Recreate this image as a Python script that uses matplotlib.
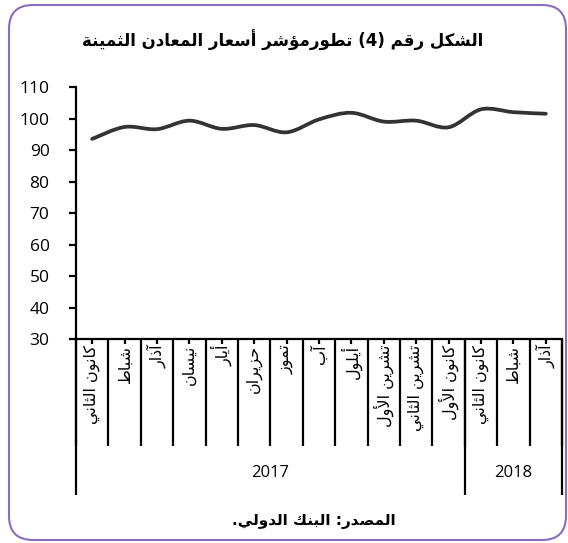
import re
from matplotlib import pyplot as plt
from matplotlib.path import Path
from matplotlib.patches import PathPatch, FancyBboxPatch
import numpy as np

# arabic letters -> isolated presentation form (4-form letters join both sides)
four = {'ئ': 0xFE89, 'ب': 0xFE8F, 'ت': 0xFE95, 'ث': 0xFE99, 'ج': 0xFE9D, 'ح': 0xFEA1,
        'خ': 0xFEA5, 'س': 0xFEB1, 'ش': 0xFEB5, 'ص': 0xFEB9, 'ض': 0xFEBD, 'ط': 0xFEC1,
        'ظ': 0xFEC5, 'ع': 0xFEC9, 'غ': 0xFECD, 'ف': 0xFED1, 'ق': 0xFED5, 'ك': 0xFED9,
        'ل': 0xFEDD, 'م': 0xFEE1, 'ن': 0xFEE5, 'ه': 0xFEE9, 'ي': 0xFEF1}
two = {'آ': 0xFE81, 'أ': 0xFE83, 'ؤ': 0xFE85, 'إ': 0xFE87, 'ا': 0xFE8D, 'ة': 0xFE93,
       'د': 0xFEA9, 'ذ': 0xFEAB, 'ر': 0xFEAD, 'ز': 0xFEAF, 'و': 0xFEED, 'ى': 0xFEEF}
lamalef = {'آ': 0xFEF5, 'أ': 0xFEF7, 'إ': 0xFEF9, 'ا': 0xFEFB}


def shape(s):
    # matplotlib does no arabic shaping, so pick the joined forms and reverse
    toks = []
    i = 0
    while i < len(s):
        if s[i] == 'ل' and i + 1 < len(s) and s[i + 1] in lamalef:
            toks.append(('LA', s[i + 1]))
            i += 2
        else:
            toks.append(s[i])
            i += 1
    out = []
    for k, t in enumerate(toks):
        prev = toks[k - 1] if k > 0 else None
        nxt = toks[k + 1] if k + 1 < len(toks) else None
        pj = prev is not None and prev in four
        if isinstance(t, tuple):
            out.append(chr(lamalef[t[1]] + pj))
        elif t in four:
            nj = nxt is not None and (nxt in four or nxt in two or isinstance(nxt, tuple))
            # 0 isolated, 1 final, 2 initial, 3 medial
            out.append(chr(four[t] + pj + 2 * nj))
        elif t in two:
            out.append(chr(two[t] + pj))
        else:
            out.append(t)
    vis = ''.join(out)[::-1]
    vis = re.sub(r'[0-9]+', lambda m: m.group(0)[::-1], vis)
    return vis.translate(str.maketrans('()', ')('))


title = 'الشكل رقم (4) تطورمؤشر أسعار المعادن الثمينة'
source = 'المصدر: البنك الدولي.'
months = ['كانون الثاني', 'شباط', 'آذار', 'نيسان', 'أيار', 'حزيران', 'تموز', 'آب',
          'أيلول', 'تشرين الأول', 'تشرين الثاني', 'كانون الأول',
          'كانون الثاني', 'شباط', 'آذار']
years = ['2017', '2018']
year_n = [12, 3]
values = [93.6, 97.4, 96.7, 99.4, 96.8, 98.0, 95.7, 99.8, 101.9, 99.1, 99.4, 97.3,
          103.0, 102.1, 101.6]
yticks = [30, 40, 50, 60, 70, 80, 90, 100, 110]

plt.rcParams['font.family'] = ['Open Sans', 'DejaVu Sans']

fig = plt.figure(figsize=(5.68, 5.43), dpi=100)
ax = fig.add_axes([0.1338, 0.3757, 0.9894 - 0.1338, 0.8392 - 0.3757])

# smoothed line (excel-style bezier through the points)
x = np.arange(len(values), dtype=float)
y = np.array(values)
pts = np.column_stack([x, y])
verts = [pts[0]]
codes = [Path.MOVETO]
n = len(pts)
for i in range(n - 1):
    p0 = pts[max(i - 1, 0)]
    p1 = pts[i]
    p2 = pts[i + 1]
    p3 = pts[min(i + 2, n - 1)]
    verts += [p1 + (p2 - p0) / 6, p2 - (p3 - p1) / 6, p2]
    codes += [Path.CURVE4] * 3
ax.add_patch(PathPatch(Path(verts, codes), fill=False, edgecolor='#333333',
                       lw=2.7, capstyle='round', joinstyle='round'))

ax.set_xlim(-0.5, len(values) - 0.5)
ax.set_ylim(30, 110)
ax.set_yticks(yticks)
ax.set_xticks(x)
ax.set_xticklabels([])
for s in ['top', 'right']:
    ax.spines[s].set_visible(False)
for s in ['left', 'bottom']:
    ax.spines[s].set_linewidth(1.6)
ax.tick_params(axis='y', direction='out', length=5, width=1.6, labelsize=12.5, pad=14)
ax.tick_params(axis='x', direction='out', length=3.5, width=1.6)

tr = ax.get_xaxis_transform()
# month separators
bounds = np.arange(len(values) + 1) - 0.5
ax.vlines(bounds, -0.425, 0, transform=tr, colors='black', lw=1.6, clip_on=False)
# year separators
yb = np.concatenate([[0], np.cumsum(year_n)]) - 0.5
ax.vlines(yb, -0.62, 0, transform=tr, colors='black', lw=1.6, clip_on=False)

for i, m in enumerate(months):
    ax.text(i, -0.022, shape(m), transform=tr, rotation=90, ha='center', va='top',
            fontsize=11.5, family='DejaVu Sans')
for k, yr in enumerate(years):
    ax.text((yb[k] + yb[k + 1]) / 2, -0.532, yr, transform=tr, ha='center',
            va='center', fontsize=12)

fig.text(0.498, 0.926, shape(title), ha='center', va='center', fontsize=12,
         fontweight='bold', family='DejaVu Sans')
fig.text(0.553, 0.039, shape(source), ha='center', va='center', fontsize=11,
         fontweight='bold', family='DejaVu Sans')

border = FancyBboxPatch((0.09, 0.03), 5.57, 5.35, boxstyle='round,pad=0,rounding_size=0.24',
                        transform=fig.dpi_scale_trans, facecolor='none',
                        edgecolor='#8c6cbe', lw=1.5)
fig.patches.append(border)

fig.savefig('out.png', dpi=100)
